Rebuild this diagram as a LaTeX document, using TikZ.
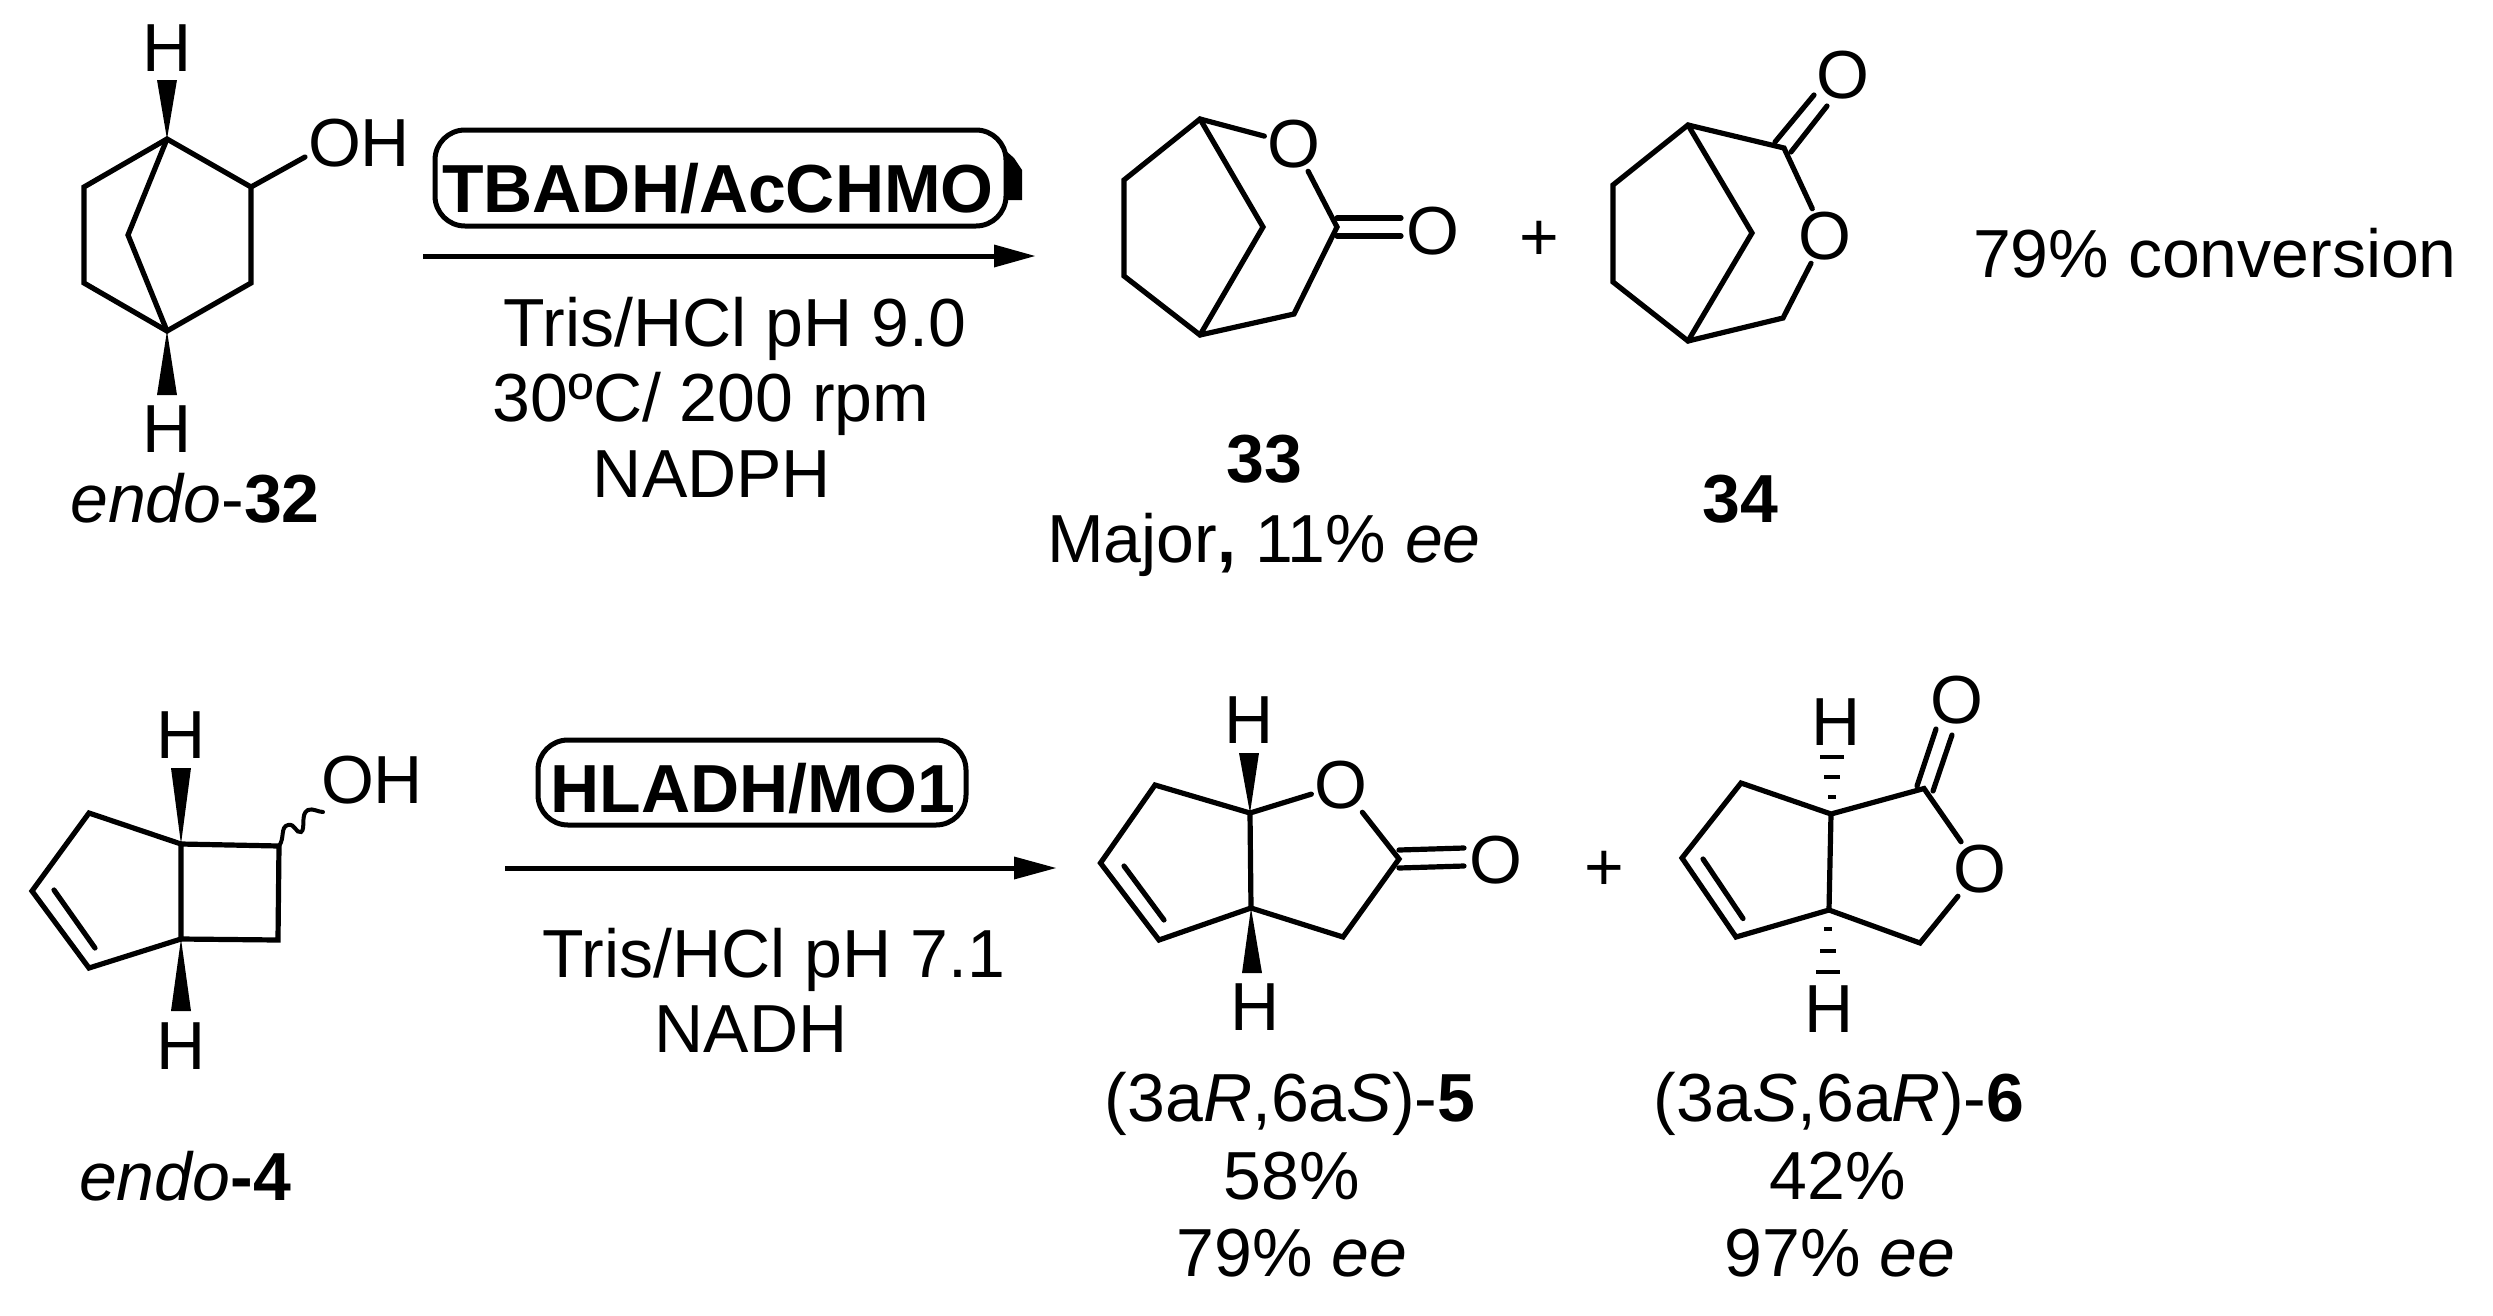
\documentclass[tikz,border=0pt]{standalone}
\usepackage{fontspec}
\setmainfont{Liberation Sans}
\newcommand{\lab}{\fontsize{68}{78}\selectfont}
\tikzset{
  bond/.style={line width=5.2pt,line cap=round,line join=miter,draw=black},
  atom/.style={inner sep=3pt,font=\lab,text=black},
  txt/.style={inner sep=0pt,font=\lab,text=black,anchor=base},
  enzbox/.style={draw=black,line width=5pt,rounded corners=30pt,inner sep=0pt},
  rxnarrow/.style={line width=5pt,draw=black},
  tip/.style={fill=black,draw=none},
  wavy/.style={line width=4pt,draw=black,line cap=round}
}
\begin{document}
\begin{tikzpicture}[x=1pt,y=-1pt]
\useasboundingbox (0,0) rectangle (2493,1315);
\fill[white] (0,0) rectangle (2493,1315);

% ---------- endo-32
\coordinate (a1) at (167,139);
\coordinate (a2) at (251,187);
\coordinate (a3) at (251,283);
\coordinate (a4) at (167,331);
\coordinate (a5) at (84,283);
\coordinate (a6) at (84,187);
\coordinate (a7) at (128,235);
\coordinate (a8) at (305,157);
\coordinate (aw1) at (167,80);
\coordinate (aw2) at (167,395);
\node[atom] (aH1) at (167,48) {H};
\node[atom] (aH2) at (167,429) {H};
\node[atom] (aOH) at (359,143) {OH};
\draw[bond] (a1) -- (a2) -- (a3) -- (a4) -- (a5) -- (a6) -- cycle;
\draw[bond] (a1) -- (a7) -- (a4);
\draw[bond] (a2) -- (a8);
\fill[tip] (a1) -- ([xshift=-10pt]aw1) -- ([xshift=10pt]aw1) -- cycle;
\fill[tip] (a4) -- ([xshift=-10pt]aw2) -- ([xshift=10pt]aw2) -- cycle;
\node[txt] (lab32) at (195,522) {\textit{endo}-\textbf{32}};

% ---------- first reaction
\node[enzbox,minimum width=571pt,minimum height=96pt] (box1) at (720.5,178) {};
\node[txt] (enz1) at (718,212) {\textbf{TBADH/AcCHMO}};
\fill[tip] (1005,150) -- (1014,158) -- (1022,170) -- (1022,200) -- (1005,200) -- cycle;
\coordinate (r1s) at (423,256);
\coordinate (r1e) at (1000,256);
\coordinate (r1t) at (1035,256);
\draw[rxnarrow] (r1s) -- (r1e);
\fill[tip] (r1t) -- ([xshift=-41pt,yshift=-11.5pt]r1t) -- ([xshift=-41pt,yshift=11.5pt]r1t) -- cycle;
\node[txt] (c11) at (735,346) {Tris/HCl pH 9.0};
\node[txt] (c12) at (711,421) {30ºC/ 200 rpm};
\node[txt] (c13) at (712,497) {NADPH};

% ---------- 33
\coordinate (b1) at (1200,119);
\coordinate (b2) at (1124,180);
\coordinate (b3) at (1124,276);
\coordinate (b4) at (1200,335);
\coordinate (b5) at (1263,227);
\coordinate (b6) at (1294,314);
\coordinate (b7) at (1337,227);
\coordinate (b8) at (1337,218);
\coordinate (b9) at (1401,218);
\coordinate (b10) at (1337,236);
\coordinate (b11) at (1401,236);
\node[atom] (bO) at (1294,144) {O};
\node[atom] (bO2) at (1433,231) {O};
\draw[bond] (bO) -- (b1) -- (b2) -- (b3) -- (b4) -- (b6) -- (b7) -- (bO);
\draw[bond] (b1) -- (b5) -- (b4);
\draw[bond] (b8) -- (b9);
\draw[bond] (b10) -- (b11);
\node[txt] (lab33) at (1264,482) {\textbf{33}};
\node[txt] (lab33b) at (1264,562) {Major\textbf{,} 11\% \textit{ee}};
\node[atom] (plus1) at (1539,241) {+};

% ---------- 34
\coordinate (c1) at (1688,125);
\coordinate (c2) at (1613,185);
\coordinate (c3) at (1613,282);
\coordinate (c4) at (1688,341);
\coordinate (c5) at (1752,233);
\coordinate (c6) at (1783,318);
\coordinate (c7) at (1784,148);
\coordinate (c8) at (1775,142);
\coordinate (c9) at (1814,95);
\coordinate (c10) at (1791,152);
\coordinate (c11) at (1827,106);
\node[atom] (cO) at (1825,236) {O};
\node[atom] (cO2) at (1843,75) {O};
\draw[bond] (cO) -- (c6) -- (c4) -- (c3) -- (c2) -- (c1) -- (c7) -- (cO);
\draw[bond] (c1) -- (c5) -- (c4);
\draw[bond] (c8) -- (c9);
\draw[bond] (c10) -- (c11);
\node[txt] (lab34) at (1740,522) {\textbf{34}};
\node[txt] (conv) at (2215,277) {79\% conversion};

% ---------- endo-4
\coordinate (d1) at (181,844);
\coordinate (d2) at (279,846);
\coordinate (d3) at (278,940);
\coordinate (d4) at (181,939);
\coordinate (d5) at (89,968);
\coordinate (d6) at (32,891);
\coordinate (d7) at (89,813);
\coordinate (d8) at (54,890);
\coordinate (d9) at (95,948);
\coordinate (d10) at (323,812);
\coordinate (dw1) at (181,768);
\coordinate (dw2) at (181,1011);
\node[atom] (dH1) at (181,735) {H};
\node[atom] (dH2) at (181,1046) {H};
\node[atom] (dOH) at (372,780) {OH};
\draw[bond] (d1) -- (d2) -- (d3) -- (d4) -- cycle;
\draw[bond] (d1) -- (d7) -- (d6) -- (d5) -- (d4);
\draw[bond] (d8) -- (d9);
\draw[wavy] (d2) .. controls (285,838) and (280,827) .. (288,825)
  .. controls (295,823) and (296,834) .. (301,832)
  .. controls (306,829) and (300,814) .. (308,810)
  .. controls (313,808) and (318,812) .. (d10);
\fill[tip] (d1) -- ([xshift=-10pt]dw1) -- ([xshift=10pt]dw1) -- cycle;
\fill[tip] (d4) -- ([xshift=-10pt]dw2) -- ([xshift=10pt]dw2) -- cycle;
\node[txt] (lab4) at (185,1200) {\textit{endo}\textbf{-4}};

% ---------- second reaction
\node[enzbox,minimum width=428pt,minimum height=85pt] (box2) at (752,782.5) {};
\node[txt] (enz2) at (753,812) {\textbf{HLADH/MO1}};
\coordinate (r2s) at (505,868);
\coordinate (r2e) at (1020,868);
\coordinate (r2t) at (1056,868);
\draw[rxnarrow] (r2s) -- (r2e);
\fill[tip] (r2t) -- ([xshift=-42pt,yshift=-11.5pt]r2t) -- ([xshift=-42pt,yshift=11.5pt]r2t) -- cycle;
\node[txt] (c21) at (774,977) {Tris/HCl pH 7.1};
\node[txt] (c22) at (751,1052) {NADH};

% ---------- 5
\coordinate (e1) at (1250,813);
\coordinate (e2) at (1251,908);
\coordinate (e3) at (1155,785);
\coordinate (e4) at (1100.5,863);
\coordinate (e5) at (1159,940);
\coordinate (e6) at (1124,866);
\coordinate (e7) at (1164,920);
\coordinate (e8) at (1399,859);
\coordinate (e9) at (1343,937);
\coordinate (e10) at (1399,850);
\coordinate (e11) at (1464,848);
\coordinate (e12) at (1399,868);
\coordinate (e13) at (1464,866);
\coordinate (ew1) at (1249,753);
\coordinate (ew2) at (1252,973);
\node[atom] (eO) at (1341,785) {O};
\node[atom] (eO2) at (1496,860) {O};
\node[atom] (eH1) at (1249,720.5) {H};
\node[atom] (eH2) at (1255,1007) {H};
\draw[bond] (e1) -- (e3) -- (e4) -- (e5) -- (e2) -- (e9) -- (e8) -- (eO) -- (e1) -- (e2);
\draw[bond] (e6) -- (e7);
\draw[bond] (e10) -- (e11);
\draw[bond] (e12) -- (e13);
\fill[tip] (e1) -- ([xshift=-10pt]ew1) -- ([xshift=10pt]ew1) -- cycle;
\fill[tip] (e2) -- ([xshift=-10pt]ew2) -- ([xshift=10pt]ew2) -- cycle;
\node[txt] (lab5) at (1290,1121) {(3a\textit{R},6a\textit{S})-\textbf{5}};
\node[txt] (lab5b) at (1292,1199) {58\%};
\node[txt] (lab5c) at (1292,1276) {79\% \textit{ee}};
\node[atom] (plus2) at (1604,871) {+};

% ---------- 6
\coordinate (f1) at (1831,814);
\coordinate (f2) at (1829,910);
\coordinate (f3) at (1741,783);
\coordinate (f4) at (1682,858);
\coordinate (f5) at (1736,937);
\coordinate (f6) at (1703,859);
\coordinate (f7) at (1743,918.5);
\coordinate (f8) at (1924,788.5);
\coordinate (f9) at (1920,943);
\coordinate (f10) at (1917,786);
\coordinate (f11) at (1936,729);
\coordinate (f12) at (1933,791);
\coordinate (f13) at (1952,735);
\coordinate (fh1) at (1832,757);
\coordinate (fh2) at (1832,777);
\coordinate (fh3) at (1832,797);
\coordinate (fh4) at (1828,929);
\coordinate (fh5) at (1828,951);
\coordinate (fh6) at (1828,972);
\node[atom] (fO) at (1980,869) {O};
\node[atom] (fO2) at (1957,700) {O};
\node[atom] (fH1) at (1836,722) {H};
\node[atom] (fH2) at (1829,1009) {H};
\draw[bond] (f1) -- (f3) -- (f4) -- (f5) -- (f2) -- (f9) -- (fO) -- (f8) -- (f1) -- (f2);
\draw[bond] (f6) -- (f7);
\draw[bond] (f10) -- (f11);
\draw[bond] (f12) -- (f13);
\draw[line width=4.5pt] ([xshift=-12pt]fh1) -- ([xshift=12pt]fh1);
\draw[line width=4.5pt] ([xshift=-8pt]fh2) -- ([xshift=8pt]fh2);
\draw[line width=4.5pt] ([xshift=-4pt]fh3) -- ([xshift=4pt]fh3);
\draw[line width=4.5pt] ([xshift=-4pt]fh4) -- ([xshift=4pt]fh4);
\draw[line width=4.5pt] ([xshift=-8pt]fh5) -- ([xshift=8pt]fh5);
\draw[line width=4.5pt] ([xshift=-12pt]fh6) -- ([xshift=12pt]fh6);
\node[txt] (lab6) at (1839,1121) {(3a\textit{S},6a\textit{R})-\textbf{6}};
\node[txt] (lab6b) at (1838,1199) {42\%};
\node[txt] (lab6c) at (1840,1276) {97\% \textit{ee}};
\end{tikzpicture}
\end{document}
